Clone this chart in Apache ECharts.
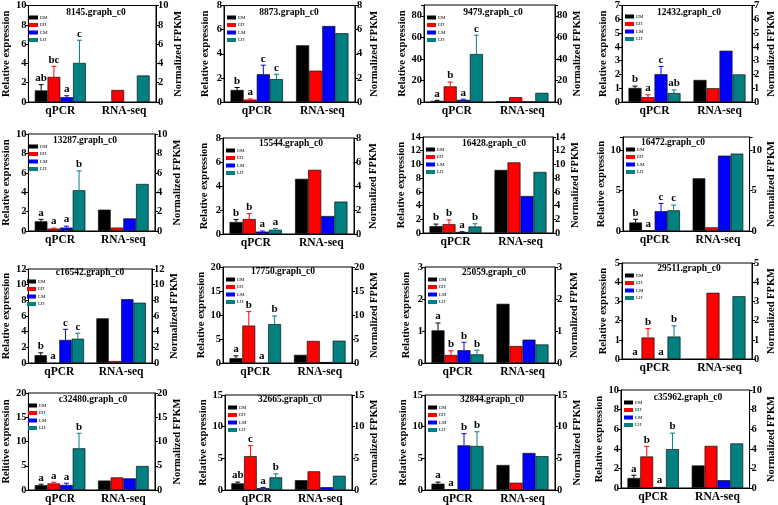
<!DOCTYPE html>
<html>
<head>
<meta charset="utf-8">
<script src="https://cdn.jsdelivr.net/npm/echarts@6/dist/echarts.min.js"></script>
<style>
html,body{margin:0;padding:0;background:#fff;}
#chart{width:778px;height:505px;}
</style>
</head>
<body>
<div id="chart"></div>
<script>
// ---------- data ----------
const cats = ['qPCR', 'RNA-seq'];
const groups = ['EM', 'EH', 'LM', 'LH'];
const genes = ['8145.graph_c0','8873.graph_c0','9479.graph_c0','12432.graph_c0',
  '13287.graph_c0','15544.graph_c0','16428.graph_c0','16472.graph_c0',
  'c16542.graph_c0','17750.graph_c0','25059.graph_c0','29511.graph_c0',
  'c32480.graph_c0','32665.graph_c0','32844.graph_c0','c35962.graph_c0'];
const leftNames = ['Relative expression','Relative expression','Relative expression','Relative expression',
  'Relative expression','Relative expression','Relative expression','Relative expression',
  'Relative expression','Relative expression','Relative expression','Relative expression',
  'Relitive expression','Relative expression','Relative expression','Relative expression'];
const rightName = 'Normalized FPKM';
const yMax  = [10, 8, 90, 7, 10, 8, 14, 11.6, 12, 20, 3, 5, 20, 15, 15, 10];
const yStep = [2, 2, 20, 1, 2, 2, 2, 5, 2, 5, 1, 1, 5, 5, 5, 2];

const qpcrEM = [1.2, 1.0, 1.0, 1.02, 1.0, 1.0, 1.0, 1.05, 1.0, 1.0, 1.02, 0, 1.0, 1.05, 1.0, 1.02];
const qpcrEH = [2.6, 0.2, 14.5, 0.35, 0.25, 1.25, 1.3, 0.05, 0, 7.8, 0.25, 1.12, 1.35, 5.35, 0.1, 3.22];
const qpcrLM = [0.5, 2.3, 2.0, 2.02, 0.35, 0.2, 0.15, 2.45, 2.95, 0, 0.4, 0, 1.05, 0.3, 7.05, 0.1];
const qpcrLH = [4.05, 1.9, 44.5, 0.65, 4.2, 0.35, 0.95, 2.55, 3.1, 8.1, 0.27, 1.17, 8.6, 2.0, 6.95, 3.97];

const errEM = [1.8, 1.2, 1.6, 1.15, 1.2, 1.2, 1.3, 1.45, 1.3, 1.5, 1.25, null, 1.2, 1.25, 1.25, 1.3];
const errEH = [3.7, 0.25, 18.5, 0.52, 0.3, 1.7, 1.9, null, null, 10.7, 0.38, 1.58, 1.6, 7.0, null, 4.25];
const errLM = [0.65, 3.05, 2.6, 2.58, 0.5, 0.25, 0.2, 3.4, 4.3, null, 0.65, null, 1.4, 0.4, 8.9, null];
const errLH = [6.4, 2.3, 62, 0.88, 6.2, 0.45, 1.35, 3.2, 3.8, 9.8, 0.4, 1.73, 11.7, 2.55, 9.2, 5.6];

const sigEM = ['ab','b','a','b','a','b','b','b','b','a','a','a','a','ab','a','a'];
const sigEH = ['bc','a','b','a','a','b','b','a','a','b','b','b','a','c','a','b'];
const sigLM = ['a','c','a','c','a','a','a','c','c','a','b','a','a','a','b','a'];
const sigLH = ['c','c','c','ab','b','a','b','c','c','b','b','b','b','b','b','b'];

const rnaEM = [0, 4.7, 0.5, 1.6, 2.2, 4.6, 9.2, 6.5, 5.7, 1.7, 1.85, 0, 1.95, 1.55, 3.95, 2.3];
const rnaEH = [1.25, 2.6, 4.5, 1.0, 0.35, 5.35, 10.3, 0.45, 0.25, 4.6, 0.53, 3.45, 2.6, 2.95, 1.15, 4.3];
const rnaLM = [0, 6.3, 0.3, 3.72, 1.3, 1.5, 5.4, 9.3, 8.15, 0.2, 0.73, 0, 2.4, 0.45, 5.85, 0.8];
const rnaLH = [2.75, 5.7, 8.5, 2.0, 4.85, 2.7, 8.9, 9.55, 7.7, 4.65, 0.58, 3.27, 4.95, 2.25, 5.35, 4.55];

// ---------- layout / style ----------
const grids = [
  [26,5,130,97],[224,5,131,97],[424,5,131,97],[622,4,131,98],
  [26,134,129,97],[223,138,131,96],[423,137,130,96],[623,137,130,94],
  [24,269,128,94],[223,267,129,96],[425,267,130,96],[622,263,130,96],
  [25,393,130,98],[225,395,127,96],[425,395,130,96],[621,390,133,98]];
const titlePos = [
  [96,13],[289,13],[493,13],[689,13],
  [85,141],[291,144],[494,144],[673,143],
  [90,273],[283,272],[494,273],[689,269],
  [93,400],[290,400],[492,400],[688,398]];
const colors = ['#000000', '#ff0000', '#0000ff', '#008080'];
const FONT = '"Liberation Serif","Times New Roman",serif';

const qpcr = [qpcrEM, qpcrEH, qpcrLM, qpcrLH];
const rna = [rnaEM, rnaEH, rnaLM, rnaLH];
const errs = [errEM, errEH, errLM, errLH];
const sigs = [sigEM, sigEH, sigLM, sigLH];

const option = {
  animation: false,
  backgroundColor: '#fff',
  grid: [], xAxis: [], yAxis: [], series: [], legend: [], graphic: []
};

function fmt(step) {
  return function (v) {
    const r = v / step;
    return Math.abs(r - Math.round(r)) < 1e-6 ? String(v) : '';
  };
}
function barVal(v) { return v === 0 ? '-' : v; }

for (let i = 0; i < 16; i++) {
  const g = grids[i];
  option.grid.push({left: g[0], top: g[1], width: g[2], height: g[3],
    show: true, borderColor: '#000', borderWidth: 1, containLabel: false});
  option.xAxis.push({
    type: 'category', gridIndex: i, data: cats,
    axisLine: {lineStyle: {color: '#000', width: 1}},
    axisTick: {show: false},
    axisLabel: {color: '#000', fontFamily: FONT, fontWeight: 'bold', fontSize: 11.5, margin: 3}
  });
  const yCommon = {
    type: 'value', gridIndex: i, min: 0, max: yMax[i], interval: yStep[i],
    splitLine: {show: false},
    axisLine: {show: true, lineStyle: {color: '#000', width: 1}},
    axisTick: {show: true, length: 3, lineStyle: {color: '#000'}},
    axisLabel: {color: '#000', fontFamily: FONT, fontWeight: 'bold', fontSize: 10.5, margin: 2, formatter: fmt(yStep[i])},
    nameLocation: 'middle', nameRotate: 90,
    nameTextStyle: {color: '#000', fontFamily: FONT, fontWeight: 'bold', fontSize: 10.5}
  };
  option.yAxis.push(Object.assign({}, yCommon, {position: 'left', name: leftNames[i], nameGap: 13}));
  option.yAxis.push(Object.assign({}, yCommon, {position: 'right', name: rightName, nameGap: 14}));

  for (let k = 0; k < 4; k++) {
    option.series.push({
      type: 'bar', name: groups[k], xAxisIndex: i, yAxisIndex: 2 * i,
      barWidth: '20%', barGap: '0%',
      itemStyle: {color: colors[k], borderColor: '#111', borderWidth: 0.7},
      data: [barVal(qpcr[k][i]), barVal(rna[k][i])]
    });
  }
  // error bars + significance letters on qPCR bars
  const items = [];
  for (let k = 0; k < 4; k++) items.push([0, errs[k][i] != null ? errs[k][i] : qpcr[k][i]]);
  option.series.push({
    type: 'custom', xAxisIndex: i, yAxisIndex: 2 * i, silent: true, z: 5,
    data: items,
    renderItem: (function (pi) {
      return function (params, api) {
        const k = params.dataIndex;
        const v = qpcr[k][pi];
        const e = errs[k][pi];
        const band = api.size([1, 0])[0];
        const cx = api.coord([0, 0])[0] + band * 0.2 * (k - 1.5);
        const yv = api.coord([0, v])[1];
        const children = [];
        let yTop = yv;
        if (e != null) {
          const ye = api.coord([0, e])[1];
          yTop = ye;
          children.push({type: 'line', shape: {x1: cx, y1: yv, x2: cx, y2: ye},
            style: {stroke: colors[k], lineWidth: 1}});
          children.push({type: 'line', shape: {x1: cx - 2.5, y1: ye, x2: cx + 2.5, y2: ye},
            style: {stroke: colors[k], lineWidth: 1}});
        }
        children.push({type: 'text', x: cx, y: yTop - 1,
          style: {text: sigs[k][pi], fill: '#000', font: 'bold 11px ' + FONT,
            align: 'center', verticalAlign: 'bottom'}});
        return {type: 'group', children: children};
      };
    })(i)
  });

  option.legend.push({
    left: g[0] + 3, top: g[1] + 10, orient: 'vertical', icon: 'rect',
    itemWidth: 9, itemHeight: 4, itemGap: 2.5, selectedMode: false, padding: 0,
    itemStyle: {borderWidth: 0},
    textStyle: {fontSize: 5, fontFamily: FONT, color: '#000', padding: [0, 0, 0, -3]},
    data: groups
  });

  option.graphic.push({
    type: 'text', x: titlePos[i][0], y: titlePos[i][1], silent: true,
    style: {text: genes[i], fill: '#000', font: 'bold 9.5px ' + FONT,
      align: 'center', verticalAlign: 'middle'}
  });
}

const chart = echarts.init(document.getElementById('chart'), null, {renderer: 'canvas'});
chart.setOption(option);
</script>
</body>
</html>
